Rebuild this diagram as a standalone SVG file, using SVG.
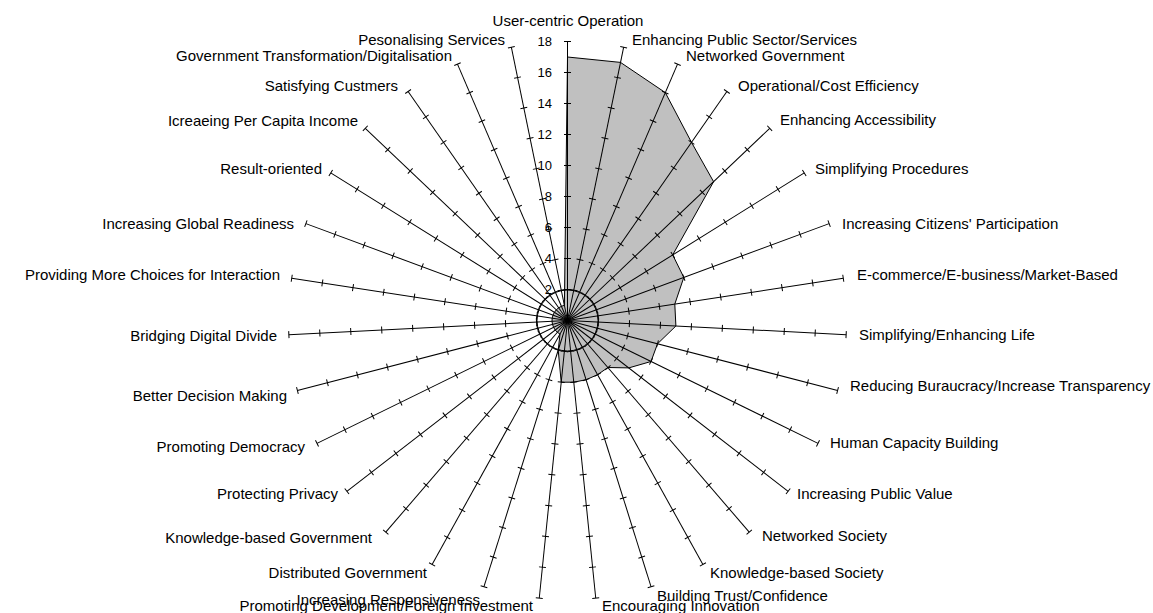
<svg xmlns="http://www.w3.org/2000/svg" width="1153" height="613" viewBox="0 0 1153 613">
<style>
.lbl{font-family:"Liberation Sans",Arial,sans-serif;font-size:15px;fill:#000}
.num{font-family:"Liberation Sans",Arial,sans-serif;font-size:13px;fill:#000;text-anchor:end}
.end{text-anchor:end}
.mid{text-anchor:middle}
.ln{stroke:#000;stroke-width:1;fill:none}
</style>
<defs>
<g id="axis">
<line class="ln" x1="0" y1="0" x2="0" y2="-279"/>
<path class="ln" d="M-3.5 -31H3.5M-3.5 -62H3.5M-3.5 -93H3.5M-3.5 -124H3.5M-3.5 -155H3.5M-3.5 -186H3.5M-3.5 -217H3.5M-3.5 -248H3.5M-3.5 -279H3.5"/>
</g>
</defs>
<rect width="1153" height="613" fill="#fff"/>
<g id="series">
<polygon points="567.5,57 620.5,62.4 665.3,92.6 691.5,142.4 713.6,181.7 672.7,254.9 683.8,277.4 674.8,304.1 675.9,326 657.5,343.8 651,361.5 628.8,367.9 607.9,367.5 597.6,374.7 586.1,379.7 573.8,382.2 561.2,382.2 558.2,350.1 560,334.1 557.4,332.3 555.2,330 553.6,327.3 552.5,324.4 552,321.3 552.2,318.2 553,315.1 554.4,312.3 556.3,309.8 558.7,307.8 561.4,306.3 564.4,305.3" fill="#C0C0C0" stroke="#000" stroke-width="1"/>
</g>
<circle id="ring" cx="567.5" cy="320.5" r="30.5" class="ln"/>
<g id="axes" transform="translate(567.5 320.5)">
<use href="#axis" transform="rotate(0)"/>
<use href="#axis" transform="rotate(11.613)"/>
<use href="#axis" transform="rotate(23.226)"/>
<use href="#axis" transform="rotate(34.839)"/>
<use href="#axis" transform="rotate(46.452)"/>
<use href="#axis" transform="rotate(58.065)"/>
<use href="#axis" transform="rotate(69.677)"/>
<use href="#axis" transform="rotate(81.290)"/>
<use href="#axis" transform="rotate(92.903)"/>
<use href="#axis" transform="rotate(104.516)"/>
<use href="#axis" transform="rotate(116.129)"/>
<use href="#axis" transform="rotate(127.742)"/>
<use href="#axis" transform="rotate(139.355)"/>
<use href="#axis" transform="rotate(150.968)"/>
<use href="#axis" transform="rotate(162.581)"/>
<use href="#axis" transform="rotate(174.194)"/>
<use href="#axis" transform="rotate(185.806)"/>
<use href="#axis" transform="rotate(197.419)"/>
<use href="#axis" transform="rotate(209.032)"/>
<use href="#axis" transform="rotate(220.645)"/>
<use href="#axis" transform="rotate(232.258)"/>
<use href="#axis" transform="rotate(243.871)"/>
<use href="#axis" transform="rotate(255.484)"/>
<use href="#axis" transform="rotate(267.097)"/>
<use href="#axis" transform="rotate(278.710)"/>
<use href="#axis" transform="rotate(290.323)"/>
<use href="#axis" transform="rotate(301.935)"/>
<use href="#axis" transform="rotate(313.548)"/>
<use href="#axis" transform="rotate(325.161)"/>
<use href="#axis" transform="rotate(336.774)"/>
<use href="#axis" transform="rotate(348.387)"/>
</g>
<g id="scale">
<text class="num" x="552" y="46">18</text>
<text class="num" x="552" y="77">16</text>
<text class="num" x="552" y="108">14</text>
<text class="num" x="552" y="139">12</text>
<text class="num" x="552" y="170">10</text>
<text class="num" x="552" y="201">8</text>
<text class="num" x="552" y="232">6</text>
<text class="num" x="552" y="263">4</text>
<text class="num" x="552" y="294">2</text>
</g>
<g id="labels">
<text class="lbl mid" x="568" y="26">User-centric Operation</text>
<text class="lbl" x="632" y="45">Enhancing Public Sector/Services</text>
<text class="lbl" x="686" y="61">Networked Government</text>
<text class="lbl" x="738" y="91">Operational/Cost Efficiency</text>
<text class="lbl" x="780" y="125">Enhancing Accessibility</text>
<text class="lbl" x="815" y="174">Simplifying Procedures</text>
<text class="lbl" x="842" y="229">Increasing Citizens' Participation</text>
<text class="lbl" x="857" y="280">E-commerce/E-business/Market-Based</text>
<text class="lbl" x="859" y="340">Simplifying/Enhancing Life</text>
<text class="lbl" x="850" y="391">Reducing Buraucracy/Increase Transparency</text>
<text class="lbl" x="830" y="448">Human Capacity Building</text>
<text class="lbl" x="797" y="499">Increasing Public Value</text>
<text class="lbl" x="762" y="541">Networked Society</text>
<text class="lbl" x="710" y="578">Knowledge-based Society</text>
<text class="lbl" x="657" y="601">Building Trust/Confidence</text>
<text class="lbl" x="602" y="611">Encouraging Innovation</text>
<text class="lbl end" x="533" y="611">Promoting Development/Foreign Investment</text>
<text class="lbl end" x="480" y="605">Increasing Responsiveness</text>
<text class="lbl end" x="427" y="578">Distributed Government</text>
<text class="lbl end" x="372" y="543">Knowledge-based Government</text>
<text class="lbl end" x="338" y="499">Protecting Privacy</text>
<text class="lbl end" x="305" y="452">Promoting Democracy</text>
<text class="lbl end" x="287" y="401">Better Decision Making</text>
<text class="lbl end" x="277" y="341">Bridging Digital Divide</text>
<text class="lbl end" x="280" y="280">Providing More Choices for Interaction</text>
<text class="lbl end" x="294" y="229">Increasing Global Readiness</text>
<text class="lbl end" x="322" y="174">Result-oriented</text>
<text class="lbl end" x="358" y="126">Icreaeing Per Capita Income</text>
<text class="lbl end" x="398" y="91">Satisfying Custmers</text>
<text class="lbl end" x="452" y="61">Government Transformation/Digitalisation</text>
<text class="lbl end" x="505" y="45">Pesonalising Services</text>
</g>
</svg>
